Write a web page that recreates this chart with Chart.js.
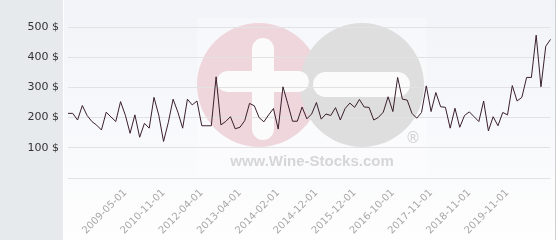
<!DOCTYPE html>
<html>
<head>
<meta charset="utf-8">
<script src="https://cdn.jsdelivr.net/npm/chart.js@4/dist/chart.umd.min.js"></script>
<style>
html,body{margin:0;padding:0;background:#fff;}
#wrap{width:560px;height:240px;position:relative;}
</style>
</head>
<body>
<div id="wrap"><canvas id="c"></canvas></div>
<script>
// ---- data ----
const tickDates = ['2009-05-01','2010-11-01','2012-04-01','2013-04-01','2014-02-01','2014-12-01','2015-12-01','2016-10-01','2017-11-01','2018-11-01','2019-11-01'];
const tickIndices = [12,20,28,36,44,52,60,68,76,84,92];
const prices = [
 214,214,192,240,207,187,175,159,218,202,
 187,253,208,148,209,135,181,165,267,208,
 121,184,261,218,165,261,242,255,173,173,
 173,335,176,187,203,163,168,190,247,239,
 200,186,209,230,162,302,246,188,188,235,
 196,212,250,195,212,207,233,192,230,248,
 234,260,235,234,192,201,218,269,220,333,
 261,258,214,198,217,305,220,283,236,234,
 165,231,168,207,219,203,187,255,156,203,
 173,217,209,306,255,267,333,333,473,302,
 436,459
];
const yTicks = [100,200,300,400,500];
const currency = ' $';

const categories = prices.map((_, i) => {
  const k = tickIndices.indexOf(i);
  return k >= 0 ? tickDates[k] : '';
});

const bgPlugin = {
  id: 'bg',
  beforeDraw(chart) {
    const ctx = chart.ctx, W = chart.width, H = chart.height;
    ctx.save();
    const g = ctx.createLinearGradient(0, 0, 0, H);
    g.addColorStop(0, '#f1f3f8');
    g.addColorStop(1, '#fefefe');
    ctx.fillStyle = g;
    ctx.fillRect(0, 0, W, H);
    // left panel
    ctx.fillStyle = '#e6eaed';
    ctx.fillRect(0, 0, 63, H);
    ctx.fillStyle = '#ffffff';
    ctx.fillRect(63, 0, 1, H);
    // watermark
    ctx.fillStyle = 'rgba(255,255,255,0.3)';
    ctx.fillRect(197, 18, 230, 156);
    ctx.fillStyle = '#eed6dc';
    ctx.beginPath(); ctx.arc(259, 85, 62, 0, Math.PI * 2); ctx.fill();
    ctx.fillStyle = '#dedede';
    ctx.beginPath(); ctx.arc(362, 85, 62, 0, Math.PI * 2); ctx.fill();
    ctx.fillStyle = '#fbfbfc';
    const rr = (x, y, w, h, r) => { ctx.beginPath(); ctx.roundRect(x, y, w, h, r); ctx.fill(); };
    rr(252, 38, 22, 102, 11);
    rr(217, 71, 92, 21, 10.5);
    rr(313, 72, 97, 25, 12.5);
    ctx.fillStyle = '#d6d6d6';
    ctx.font = 'bold 15px "Liberation Sans", Arial, sans-serif';
    ctx.textAlign = 'center';
    ctx.textBaseline = 'alphabetic';
    ctx.fillText('www.Wine-Stocks.com', 312, 166);
    ctx.fillStyle = '#d0d0d0';
    ctx.font = '15px "DejaVu Sans", sans-serif';
    ctx.textBaseline = 'middle';
    ctx.fillText('\u00AE', 413, 139);
    // right border
    ctx.fillStyle = '#cfcfcf';
    ctx.fillRect(555, 0, 1, H);
    ctx.fillStyle = '#ffffff';
    ctx.fillRect(556, 0, 4, H);
    ctx.restore();
  }
};

new Chart(document.getElementById('c'), {
  type: 'line',
  data: {
    labels: categories,
    datasets: [{
      data: prices,
      borderColor: '#3a1f2c',
      borderWidth: 1,
      pointRadius: 0,
      tension: 0,
      fill: false
    }]
  },
  options: {
    responsive: true,
    maintainAspectRatio: false,
    animation: false,
    layout: { padding: { top: 27, right: 5, left: 0, bottom: 0 } },
    plugins: { legend: { display: false }, tooltip: { enabled: false } },
    scales: {
      x: {
        type: 'category',
        grid: { display: false },
        border: { display: false },
        ticks: {
          autoSkip: false,
          maxRotation: 45,
          minRotation: 45,
          padding: 1,
          color: '#a8a8a8',
          font: { family: '"DejaVu Sans", sans-serif', size: 10 }
        },
        afterFit(s) { s.height = 62; }
      },
      y: {
        min: 0,
        max: yTicks[yTicks.length - 1],
        afterBuildTicks(s) { s.ticks = [0].concat(yTicks).map(v => ({ value: v })); },
        grid: { color: '#e2e2e2', drawTicks: false, lineWidth: 1 },
        border: { display: false },
        ticks: {
          padding: 9,
          color: '#333',
          font: { family: '"DejaVu Sans", sans-serif', size: 11 },
          callback: v => v === 0 ? '' : v + currency
        },
        afterFit(s) { s.width = 68; }
      }
    }
  },
  plugins: [bgPlugin]
});
</script>
</body>
</html>
